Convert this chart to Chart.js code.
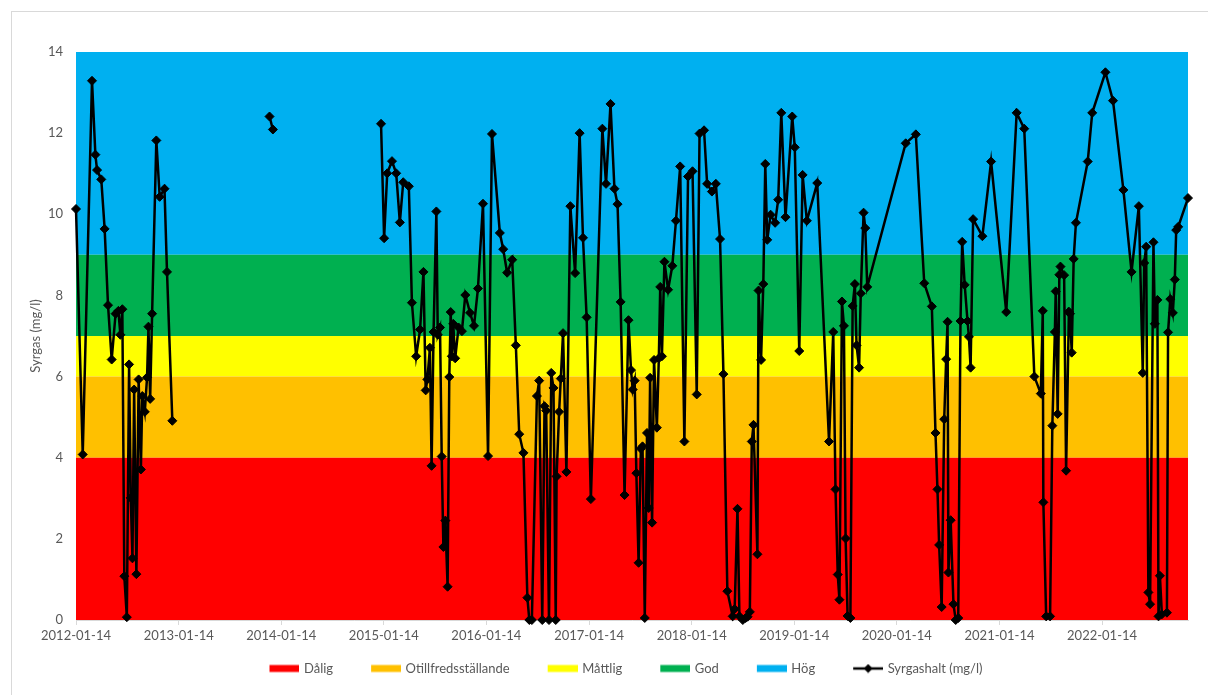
<!DOCTYPE html>
<html lang="sv">
<head>
<meta charset="UTF-8" />
<title>Syrgashalt</title>
<script src="https://cdn.jsdelivr.net/npm/chart.js@4.4.1/dist/chart.umd.min.js"></script>
<style>
  html, body { margin: 0; padding: 0; background: #fff; overflow: hidden; }
  #frame { position: absolute; left: 11px; top: 11px; width: 1300px; height: 800px; border: 1px solid #d9d9d9; }
  #myChart { position: absolute; left: 0; top: 0; }
</style>
</head>
<body>
<div id="frame"></div>
<canvas id="myChart" width="1208" height="695"></canvas>
<script>
// sampling dates (null value = break in the line)
const dates = [
  '2012-01-14','2012-02-07','2012-03-11','2012-03-23','2012-03-29','2012-04-13','2012-04-25','2012-05-07','2012-05-20','2012-06-03',
  '2012-06-13','2012-06-20','2012-06-27','2012-07-04','2012-07-13','2012-07-21','2012-07-27','2012-08-02','2012-08-08','2012-08-16',
  '2012-08-24','2012-09-01','2012-09-06','2012-09-15','2012-09-23','2012-09-28','2012-10-04','2012-10-11','2012-10-26','2012-11-07',
  '2012-11-24','2012-12-03','2012-12-22','2013-06-01',
  '2013-12-03','2013-12-15','2014-06-01',
  '2015-01-04','2015-01-15','2015-01-26','2015-02-12','2015-02-27','2015-03-12','2015-03-24','2015-04-13','2015-04-24','2015-05-09',
  '2015-05-23','2015-06-04','2015-06-12','2015-06-18','2015-06-27','2015-07-03','2015-07-10','2015-07-20','2015-07-25','2015-08-02',
  '2015-08-08','2015-08-14','2015-08-21','2015-08-29','2015-09-04','2015-09-09','2015-09-13','2015-09-18','2015-09-25','2015-10-07',
  '2015-10-19','2015-10-31','2015-11-17','2015-12-01','2015-12-15',
  '2016-01-02','2016-01-20','2016-02-03','2016-03-02','2016-03-14','2016-03-28','2016-04-15','2016-04-28','2016-05-10','2016-05-25',
  '2016-06-08','2016-06-15','2016-06-24','2016-07-12','2016-07-20','2016-07-31','2016-08-08','2016-08-14','2016-08-24','2016-09-01',
  '2016-09-09','2016-09-17','2016-09-20','2016-09-29','2016-10-05','2016-10-13','2016-10-25','2016-11-08','2016-11-25','2016-12-11',
  '2016-12-23',
  '2017-01-05','2017-01-20','2017-03-02','2017-03-15','2017-03-31','2017-04-14','2017-04-25','2017-05-06','2017-05-20','2017-06-03',
  '2017-06-12','2017-06-18','2017-06-25','2017-07-01','2017-07-09','2017-07-17','2017-07-23','2017-07-31','2017-08-08','2017-08-14',
  '2017-08-19','2017-08-26','2017-09-02','2017-09-12','2017-09-19','2017-09-24','2017-09-30','2017-10-09','2017-10-22','2017-11-06',
  '2017-11-19','2017-12-04','2017-12-19',
  '2018-01-01','2018-01-17','2018-02-01','2018-02-11','2018-02-27','2018-03-10','2018-03-27','2018-04-10','2018-04-25','2018-05-07',
  '2018-05-21','2018-06-09','2018-06-16','2018-06-26','2018-07-03','2018-07-15','2018-07-25','2018-08-01','2018-08-09','2018-08-16',
  '2018-08-22','2018-09-05','2018-09-09','2018-09-18','2018-09-26','2018-10-03','2018-10-10','2018-10-22','2018-11-07','2018-11-18',
  '2018-11-29','2018-12-14',
  '2019-01-07','2019-01-16','2019-02-01','2019-02-13','2019-02-28','2019-04-06','2019-05-18','2019-06-02','2019-06-10','2019-06-18',
  '2019-06-24','2019-07-03','2019-07-10','2019-07-16','2019-07-23','2019-08-02','2019-08-10','2019-08-18','2019-08-24','2019-09-02',
  '2019-09-08','2019-09-18','2019-09-24','2019-10-01',
  '2020-02-15','2020-03-22','2020-04-21','2020-05-18','2020-05-31','2020-06-07','2020-06-13','2020-06-22','2020-07-01','2020-07-08',
  '2020-07-13','2020-07-16','2020-07-24','2020-08-03','2020-08-11','2020-08-20','2020-08-28','2020-09-03','2020-09-12','2020-09-22',
  '2020-09-27','2020-10-03','2020-10-12','2020-11-14','2020-12-15',
  '2021-02-07','2021-03-16','2021-04-12','2021-05-18','2021-06-10','2021-06-17','2021-06-19','2021-06-29','2021-07-13','2021-07-21',
  '2021-07-30','2021-08-02','2021-08-09','2021-08-15','2021-08-19','2021-09-01','2021-09-08','2021-09-18','2021-09-22','2021-09-28',
  '2021-10-05','2021-10-13','2021-11-24','2021-12-10',
  '2022-01-26','2022-02-22','2022-03-31','2022-04-29','2022-05-25','2022-06-08','2022-06-13','2022-06-20','2022-06-28','2022-07-04',
  '2022-07-16','2022-07-21','2022-07-30','2022-08-03','2022-08-08','2022-08-15','2022-09-02','2022-09-06','2022-09-14','2022-09-23',
  '2022-09-30','2022-10-05','2022-10-12','2022-11-16'
];

// Syrgashalt (mg/l)
const values = [
  10.13, 4.08, 13.29, 11.47, 11.09, 10.86, 9.64, 7.76, 6.42, 7.55,
  7.62, 7.03, 7.66, 1.08, 0.07, 6.30, 3.01, 1.52, 5.68, 1.13,
  5.93, 3.71, 5.52, 5.13, 5.98, 7.23, 5.45, 7.55, 11.82, 10.43,
  10.63, 8.58, 4.91, null,
  12.41, 12.09, null,
  12.23, 9.41, 11.01, 11.31, 11.01, 9.80, 10.79, 10.69, 7.82, 6.50,
  7.16, 8.58, 5.66, 5.93, 6.71, 3.80, 7.10, 10.07, 7.03, 7.21,
  4.03, 1.80, 2.45, 0.82, 5.99, 7.59, 6.50, 7.30, 6.45, 7.21,
  7.12, 8.01, 7.57, 7.25, 8.17,
  10.26, 4.04, 11.98, 9.54, 9.14, 8.56, 8.88, 6.77, 4.58, 4.12,
  0.55, 0.00, 0.00, 5.52, 5.90, 0.00, 5.27, 5.16, 0.00, 6.09,
  5.72, 0.00, 3.54, 5.13, 5.95, 7.07, 3.65, 10.20, 8.55, 12.00,
  9.42,
  7.46, 2.98, 12.11, 10.75, 12.72, 10.63, 10.25, 7.84, 3.08, 7.39,
  6.16, 5.68, 5.90, 3.62, 1.41, 4.22, 4.28, 0.05, 4.61, 2.76,
  5.97, 2.40, 6.41, 4.74, 6.45, 8.21, 6.50, 8.83, 8.14, 8.73,
  9.84, 11.18, 4.40,
  10.93, 11.06, 5.56, 11.99, 12.07, 10.75, 10.56, 10.75, 9.39, 6.06,
  0.71, 0.09, 0.27, 2.74, 0.09, 0.00, 0.05, 0.08, 0.20, 4.40,
  4.81, 1.62, 8.12, 6.41, 8.28, 11.24, 9.37, 9.99, 9.79, 10.36,
  12.50, 9.93,
  12.41, 11.65, 6.63, 10.97, 9.84, 10.77, 4.40, 7.10, 3.22, 1.12,
  0.50, 7.85, 7.25, 2.01, 0.10, 0.05, 7.74, 8.28, 6.77, 6.22,
  8.05, 10.04, 9.66, 8.21,
  11.75, 11.97, 8.30, 7.73, 4.61, 3.22, 1.85, 0.32, 4.95, 6.43,
  7.35, 1.17, 2.46, 0.39, 0.00, 0.05, 7.37, 9.32, 8.26, 7.37,
  6.98, 6.22, 9.88, 9.46, 11.30,
  7.59, 12.50, 12.11, 6.00, 5.58, 7.62, 2.90, 0.09, 0.09, 4.79,
  7.10, 8.10, 5.08, 8.51, 8.71, 8.50, 3.68, 7.60, 7.55, 6.59,
  8.90, 9.79, 11.30, 12.50,
  13.50, 12.80, 10.60, 8.58, 10.20, 6.09, 8.80, 9.20, 0.68, 0.39,
  9.31, 7.30, 7.89, 0.09, 1.09, 0.14, 0.18, 7.09, 7.91, 7.57,
  8.39, 9.61, 9.69, 10.40
];

// classification bands (upper limit of each class)
const bandNames = ['Dålig', 'Otillfredsställande', 'Måttlig', 'God', 'Hög'];
const bandTops = [4, 6, 7, 9, 14];
const bandColors = ['#FF0000', '#FFC000', '#FFFF00', '#00B050', '#00B0F0'];

const yearTicks = ['2012-01-14','2013-01-14','2014-01-14','2015-01-14','2016-01-14','2017-01-14',
                   '2018-01-14','2019-01-14','2020-01-14','2021-01-14','2022-01-14'];

const xMin = Date.parse('2012-01-14');
const xMax = Date.parse(dates[dates.length - 1]);
const textColor = '#595959';
const font = { family: 'Lato', size: 13 };

// legend symbol: 64px wide image drawn in a 60px legend box, visible part on the right
function legendIcon(color, isLine) {
  const c = document.createElement('canvas');
  c.width = 64; c.height = 10;
  const g = c.getContext('2d');
  if (isLine) {
    g.strokeStyle = '#000'; g.lineWidth = 2.5;
    g.beginPath(); g.moveTo(34, 5); g.lineTo(64, 5); g.stroke();
    g.fillStyle = '#000';
    g.beginPath(); g.moveTo(49, 0.5); g.lineTo(53.5, 5); g.lineTo(49, 9.5); g.lineTo(44.5, 5); g.closePath(); g.fill();
  } else {
    g.fillStyle = color;
    g.fillRect(34, 1.5, 30, 7);
  }
  return c;
}

const datasets = bandNames.map((name, i) => ({
  label: name,
  data: [{ x: xMin, y: bandTops[i] }, { x: xMax, y: bandTops[i] }],
  backgroundColor: bandColors[i],
  borderWidth: 0,
  pointRadius: 0,
  fill: i === 0 ? 'origin' : '-1',
  order: 1
}));

datasets.push({
  label: 'Syrgashalt (mg/l)',
  data: dates.map((d, i) => ({ x: Date.parse(d), y: values[i] })),
  borderColor: '#000',
  borderWidth: 2.5,
  tension: 0,
  spanGaps: false,
  clip: 8,
  pointStyle: 'rectRot',
  pointRadius: 4.5,
  pointBackgroundColor: '#000',
  pointBorderColor: '#000',
  pointBorderWidth: 1,
  fill: false,
  order: 0
});

const ctx = document.getElementById('myChart').getContext('2d');
const myChart = new Chart(ctx, {
  type: 'line',
  data: { datasets: datasets },
  options: {
    responsive: false,
    animation: false,
    events: [],
    layout: { padding: { left: 12, right: 0, top: 52, bottom: 10 } },
    scales: {
      x: {
        type: 'linear',
        min: xMin,
        max: xMax,
        afterBuildTicks: s => { s.ticks = yearTicks.map(d => ({ value: Date.parse(d) })); },
        afterFit: s => { s.height = 36; },
        ticks: {
          autoSkip: false, maxRotation: 0, color: textColor, font: font, padding: 3,
          callback: v => new Date(v).toISOString().slice(0, 10)
        },
        grid: { drawOnChartArea: false, tickLength: 5, color: '#d9d9d9' },
        border: { color: '#d9d9d9' }
      },
      y: {
        min: 0,
        max: 14,
        afterFit: s => { s.width = 64; },
        ticks: { stepSize: 2, padding: 13, color: textColor, font: font },
        grid: { display: false, drawTicks: false },
        border: { display: false },
        title: { display: true, text: 'Syrgas (mg/l)', color: textColor, font: font, padding: { top: 16, bottom: 0 } }
      },
      yR: {
        position: 'right',
        afterFit: s => { s.width = 20; },
        ticks: { display: false },
        grid: { display: false, drawTicks: false },
        border: { display: false }
      }
    },
    plugins: {
      tooltip: { enabled: false },
      legend: {
        position: 'bottom',
        labels: {
          usePointStyle: true,
          pointStyleWidth: 60,
          boxHeight: 10,
          padding: 6,
          color: textColor,
          font: font,
          generateLabels: chart => chart.data.datasets.map((ds, i) => ({
            text: ds.label,
            fontColor: textColor,
            pointStyle: legendIcon(ds.backgroundColor, i === bandNames.length),
            lineWidth: 0,
            hidden: false,
            datasetIndex: i
          }))
        }
      }
    }
  }
});
</script>
</body>
</html>
